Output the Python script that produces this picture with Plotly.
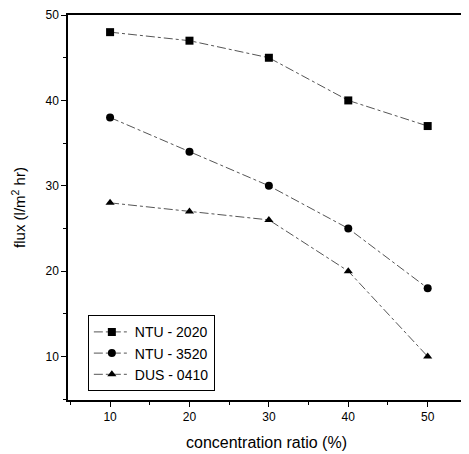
import plotly.graph_objects as go

ratio = [10, 20, 30, 40, 50]
ntu2020 = [48, 47, 45, 40, 37]
ntu3520 = [38, 34, 30, 25, 18]
dus0410 = [28, 27, 26, 20, 10]
names = ["NTU - 2020", "NTU - 3520", "DUS - 0410"]
symbols = ["square", "circle", "triangle-up"]

fig = go.Figure()
for name, ys, sym in zip(names, [ntu2020, ntu3520, dus0410], symbols):
    fig.add_trace(go.Scatter(
        x=ratio, y=ys, name=name, mode="lines+markers",
        line=dict(color="#555555", width=1, dash="dashdot"),
        marker=dict(symbol=sym, size=8, color="black"),
    ))

axis_common = dict(
    showline=True, linecolor="black", linewidth=1.5, mirror=True,
    ticks="outside", ticklen=5, tickcolor="black", showgrid=False, zeroline=False,
    automargin=False, ticklabeloverflow="allow",
    tickfont=dict(family="Liberation Sans, Arial", size=12, color="black"),
    minor=dict(ticks="outside", ticklen=3, tickcolor="black"),
)
fig.update_xaxes(range=[4.7, 54.7], tickvals=[10, 20, 30, 40, 50],
                 minor_tickvals=[5, 15, 25, 35, 45],
                 title=dict(text="concentration ratio (%)",
                            font=dict(family="Liberation Sans, Arial", size=16, color="black"), standoff=14),
                 **axis_common)
fig.update_yaxes(range=[4.9, 50.01], tickvals=[10, 20, 30, 40, 50],
                 minor_tickvals=[5, 15, 25, 35, 45],
                 title=dict(text="flux (l/m<sup>2</sup> hr)",
                            font=dict(family="Liberation Sans, Arial", size=15, color="black"), standoff=16),
                 **axis_common)
fig.update_layout(
    width=461, height=446, plot_bgcolor="white", paper_bgcolor="white",
    margin=dict(l=60, r=4, t=7, b=54),
    legend=dict(x=0.05, y=0.22, xanchor="left", yanchor="top",
                bordercolor="black", borderwidth=1, bgcolor="white",
                font=dict(family="Liberation Sans, Arial", size=14, color="black"),
                itemwidth=36, tracegroupgap=0),
)
fig.write_html("out.html")
